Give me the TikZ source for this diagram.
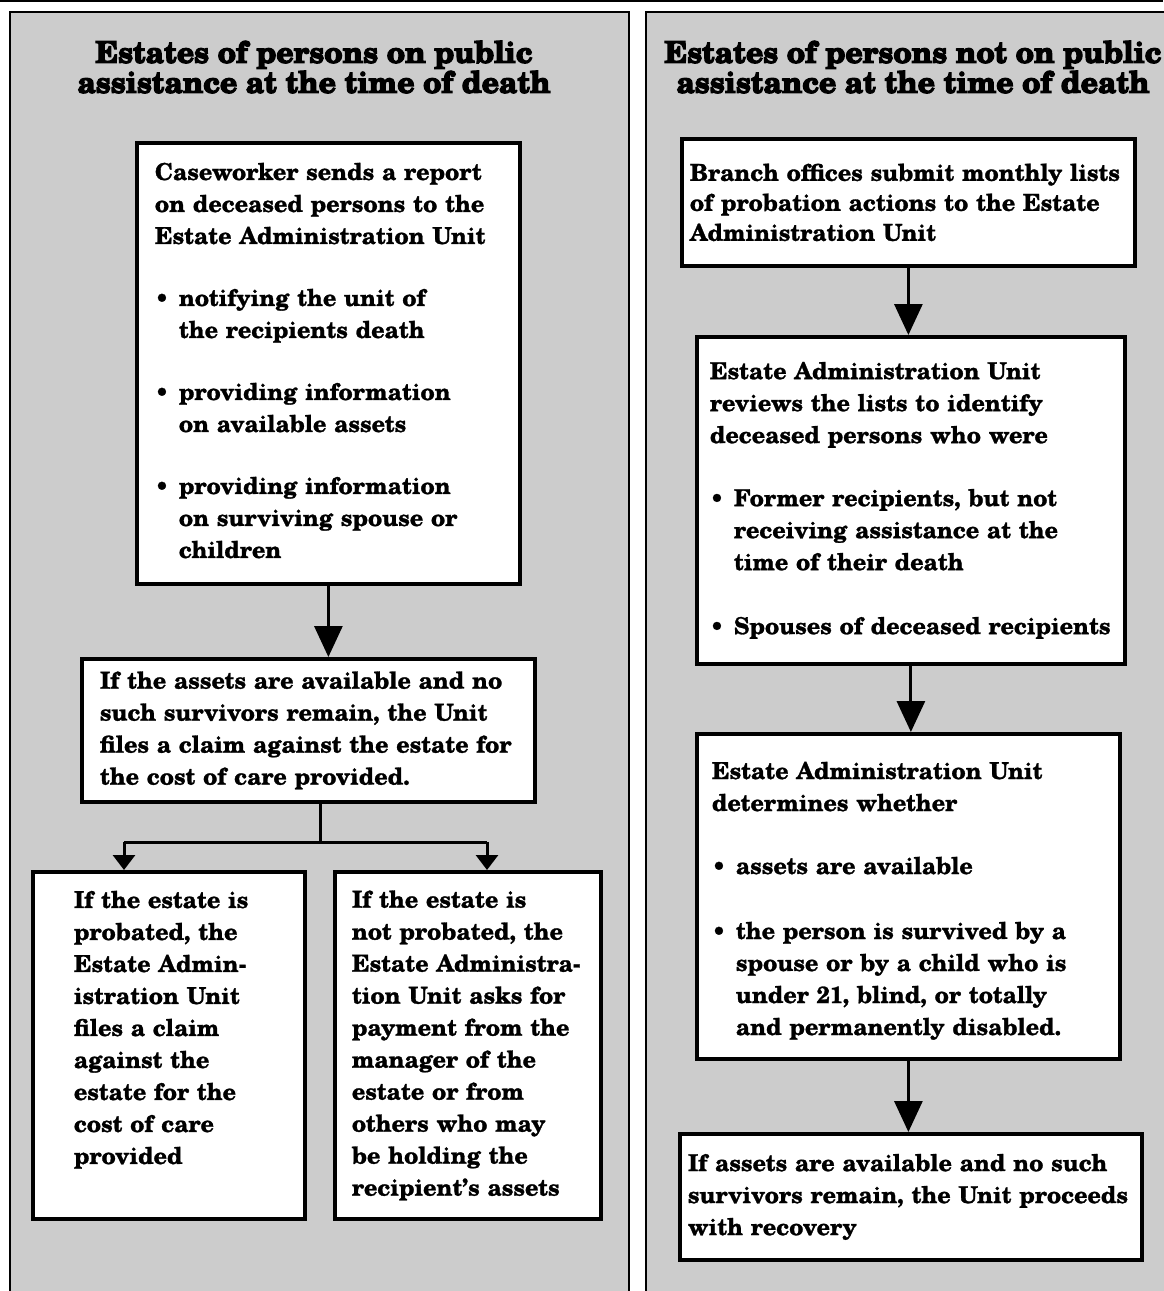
\documentclass[tikz,border=0pt]{standalone}
\usepackage{fontspec}
\setmainfont{TeX Gyre Schola}[BoldFeatures={FakeBold=1.2}]
\newfontfamily\titlefont{TeX Gyre Schola}[UprightFont={* Bold}, FakeBold=4]
\usetikzlibrary{arrows.meta}
\newcommand{\bul}{\makebox[24pt][l]{\textbullet}}
\newcommand{\ind}{\hspace*{24pt}}
\hbadness=10000 \hfuzz=200pt
\tikzset{
  panel/.style={fill=black!20, draw=black, line width=2.5pt},
  box/.style={draw=black, line width=3.8pt, fill=white, align=left, inner ysep=0pt,
    anchor=north west, font=\fontsize{23.3}{32}\selectfont\bfseries},
  ttl/.style={align=center, font=\fontsize{30}{30}\selectfont\titlefont},
  conn/.style={line width=3pt},
  bigarrow/.style={conn, -{Triangle[width=28pt,length=31pt]}},
  smallarrow/.style={conn, -{Triangle[width=22pt,length=15pt]}}
}
\begin{document}
\begin{tikzpicture}[x=1pt,y=-1pt]
\useasboundingbox (0,0) rectangle (1163,1291);
% page edge line
\draw[line width=1.5pt] (0,1) -- (1163,1);
% panels
\path[panel] (10,1300) -- (10,12) -- (629,12) -- (629,1300);
\fill[black!20] (646,12) rectangle (1170,1300);
\draw[line width=2.5pt] (646,1300) -- (646,12) -- (1170,12);
% titles
\node[ttl] (tl) at (314,67) {Estates of persons on public\\assistance at the time of death};
\node[ttl] (tr) at (913,67) {Estates of persons not on public\\assistance at the time of death};
% left column
\node[box, inner xsep=18pt, text width=347pt, minimum width=383pt, minimum height=441pt] (b1) at (135,141) {%
Caseworker sends a report\\
on deceased persons to the\\
Estate Administration Unit\\[30pt]
\bul notifying the unit of\\
\ind the recipients death\\[30pt]
\bul providing information\\
\ind on available assets\\[30pt]
\bul providing information\\
\ind on surviving spouse or\\
\ind children\rule[-6pt]{0pt}{0pt}};
\node[box, inner xsep=18pt, text width=417pt, minimum width=453pt, minimum height=143pt] (b2) at (80,657) {%
If the assets are available and no\\
such survivors remain, the Unit\\
files a claim against the estate for\\
the cost of care provided.};
\node[box, inner xsep=41pt, text width=190pt, minimum width=272pt, minimum height=347pt] (b3) at (31,870) {%
If the estate is\\
probated, the\\
Estate Admin-\\
istration Unit\\
files a claim\\
against the\\
estate for the\\
cost of care\\
provided\\[4pt]\mbox{}};
\node[box, inner xsep=17pt, text width=232pt, minimum width=266pt, minimum height=347pt] (b4) at (333,870) {%
If the estate is\\
not probated, the\\
Estate Administra-\\
tion Unit asks for\\
payment from the\\
manager of the\\
estate or from\\
others who may\\
be holding the\\
recipient's assets};
% right column
\node[box, inner xsep=8pt, text width=437pt, minimum width=453pt, minimum height=127pt,
  font=\fontsize{23.3}{30}\selectfont\bfseries] (r1) at (680,137) {%
Branch offices submit monthly lists\\
of probation actions to the Estate\\
Administration Unit};
\node[box, inner xsep=13pt, text width=402pt, minimum width=428pt, minimum height=327pt] (r2) at (695,335) {%
Estate Administration Unit\\
reviews the lists to identify\\
deceased persons who were\\[31pt]
\bul Former recipients, but not\\
\ind receiving assistance at the\\
\ind time of their death\\[32pt]
\bul Spouses of deceased recipients};
\node[box, inner xsep=15pt, text width=393pt, minimum width=423pt, minimum height=325pt] (r3) at (695,732) {%
\rule{0pt}{26pt}Estate Administration Unit\\
determines whether\\[31pt]
\bul assets are available\\[33pt]
\bul the person is survived by a\\
\ind spouse or by a child who is\\
\ind under 21, blind, or totally\\
\ind and permanently disabled.};
\node[box, inner xsep=8pt, text width=446pt, minimum width=462pt, minimum height=126pt] (r4) at (678,1132) {%
If assets are available and no such\\
survivors remain, the Unit proceeds\\
with recovery};
% connectors
\draw[bigarrow] (b1.south) -- (b1.south |- b2.north);
\coordinate (jc) at (320,842);
\coordinate (jl) at (124,842);
\coordinate (jr) at (487,842);
\draw[conn] (b2.south -| jc) -- (jc);
\draw[conn] (jl) -- (jr);
\draw[smallarrow] (jl) -- (jl |- b3.north);
\draw[smallarrow] (jr) -- (jr |- b4.north);
\draw[bigarrow] (r1.south) -- (r1.south |- r2.north);
\draw[bigarrow] (r2.south) -- (r2.south |- r3.north);
\draw[bigarrow] (r3.south) -- (r3.south |- r4.north);
\end{tikzpicture}
\end{document}
